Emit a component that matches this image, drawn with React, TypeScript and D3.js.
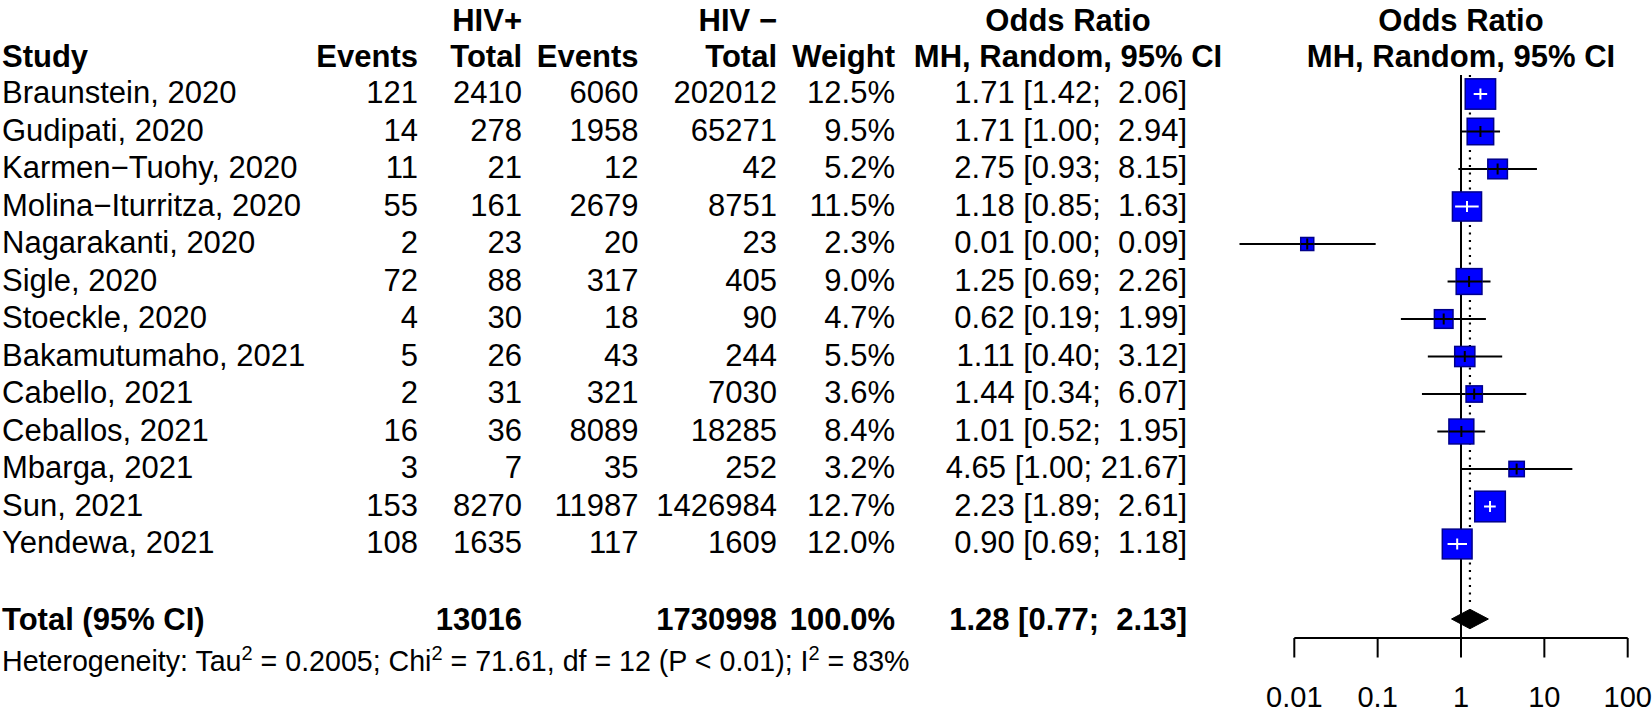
import React from "react";
import * as d3 from "d3";

const studies = [
  "Braunstein, 2020",
  "Gudipati, 2020",
  "Karmen\u2212Tuohy, 2020",
  "Molina\u2212Iturritza, 2020",
  "Nagarakanti, 2020",
  "Sigle, 2020",
  "Stoeckle, 2020",
  "Bakamutumaho, 2021",
  "Cabello, 2021",
  "Ceballos, 2021",
  "Mbarga, 2021",
  "Sun, 2021",
  "Yendewa, 2021",
];
const eventsPos = [121, 14, 11, 55, 2, 72, 4, 5, 2, 16, 3, 153, 108];
const totalPos = [2410, 278, 21, 161, 23, 88, 30, 26, 31, 36, 7, 8270, 1635];
const eventsNeg = [6060, 1958, 12, 2679, 20, 317, 18, 43, 321, 8089, 35, 11987, 117];
const totalNeg = [202012, 65271, 42, 8751, 23, 405, 90, 244, 7030, 18285, 252, 1426984, 1609];
const weights = [12.5, 9.5, 5.2, 11.5, 2.3, 9.0, 4.7, 5.5, 3.6, 8.4, 3.2, 12.7, 12.0];
const oddsRatio = [1.71, 1.71, 2.75, 1.18, 0.0143, 1.25, 0.62, 1.11, 1.44, 1.01, 4.65, 2.23, 0.9];
const ciLower = [1.42, 1.0, 0.93, 0.85, 0.0022, 0.69, 0.19, 0.4, 0.34, 0.52, 1.0, 1.89, 0.69];
const ciUpper = [2.06, 2.94, 8.15, 1.63, 0.0947, 2.26, 1.99, 3.12, 6.07, 1.95, 21.67, 2.61, 1.18];

const pooledOR = 1.28;
const pooledLower = 0.77;
const pooledUpper = 2.13;
const totalWeightLabel = "100.0%";

const xTickValues = [0.01, 0.1, 1, 10, 100];
const xTickLabels = ["0.01", "0.1", "1", "10", "100"];

const FONT = "'Liberation Sans', Arial, Helvetica, sans-serif";
const FS = 31;
const FS_HET = 28.6;
const FS_TICK = 29;

function fmtCI(or: number, lo: number, up: number) {
  const u = up.toFixed(2);
  const pad = " ".repeat(Math.max(0, 6 - u.length));
  return `${or.toFixed(2)} [${lo.toFixed(2)};${pad}${u}]`;
}

export default function App() {
  const W = 1652;
  const H = 716;

  const x = d3.scaleLog().domain([0.01, 100]).range([1294.3, 1627.7]);
  const y = d3.scaleLinear().domain([0, 14]).range([94, 619]);
  const boxSize = d3.scaleSqrt().domain([0, d3.max(weights) as number]).range([0, 30.6]);

  const baseOff = 9;
  const header1 = 31;
  const header2 = 66.5;

  const colEventsPos = 418;
  const colTotalPos = 522;
  const colEventsNeg = 638.5;
  const colTotalNeg = 777;
  const colWeight = 895;
  const colCI = 1187;
  const colCIHeader = 1068;

  const sumPos = d3.sum(totalPos);
  const sumNeg = d3.sum(totalNeg);

  const axisY = 638;
  const refTop = 75;
  const tickLen = 19.5;
  const diamondHalfH = 9.7;
  const vTickHalf = 5.5;

  const totalBase = 630;
  const hetBase = 671;
  const tickLabelBase = 707;

  const bold = { fontWeight: 700 } as const;
  const supDy = 11.5;

  return (
    <svg
      width={W}
      height={H}
      viewBox={`0 0 ${W} ${H}`}
      style={{ position: "absolute", left: 0, top: 0, background: "#fff" }}
      fontFamily={FONT}
      fontSize={FS}
    >
      <rect x={0} y={0} width={W} height={H} fill="#fff" />
      {/* Headers */}
      <g style={bold}>
        <text x={colTotalPos} y={header1} textAnchor="end">HIV+</text>
        <text x={colTotalNeg} y={header1} textAnchor="end">HIV {"\u2212"}</text>
        <text x={colCIHeader} y={header1} textAnchor="middle">Odds Ratio</text>
        <text x={x(1)} y={header1} textAnchor="middle">Odds Ratio</text>

        <text x={2} y={header2}>Study</text>
        <text x={colEventsPos} y={header2} textAnchor="end">Events</text>
        <text x={colTotalPos} y={header2} textAnchor="end">Total</text>
        <text x={colEventsNeg} y={header2} textAnchor="end">Events</text>
        <text x={colTotalNeg} y={header2} textAnchor="end">Total</text>
        <text x={colWeight} y={header2} textAnchor="end">Weight</text>
        <text x={colCIHeader} y={header2} textAnchor="middle">MH, Random, 95% CI</text>
        <text x={x(1)} y={header2} textAnchor="middle">MH, Random, 95% CI</text>
      </g>

      {/* Study rows */}
      {studies.map((s, i) => {
        const ty = y(i) + baseOff;
        return (
          <g key={s}>
            <text x={2} y={ty}>{s}</text>
            <text x={colEventsPos} y={ty} textAnchor="end">{eventsPos[i]}</text>
            <text x={colTotalPos} y={ty} textAnchor="end">{totalPos[i]}</text>
            <text x={colEventsNeg} y={ty} textAnchor="end">{eventsNeg[i]}</text>
            <text x={colTotalNeg} y={ty} textAnchor="end">{totalNeg[i]}</text>
            <text x={colWeight} y={ty} textAnchor="end">{weights[i].toFixed(1)}%</text>
            <text x={colCI} y={ty} textAnchor="end" style={{ whiteSpace: "pre" }} xmlSpace="preserve">
              {fmtCI(oddsRatio[i], ciLower[i], ciUpper[i])}
            </text>
          </g>
        );
      })}

      {/* Total row */}
      <g style={bold}>
        <text x={2} y={totalBase}>Total (95% CI)</text>
        <text x={colTotalPos} y={totalBase} textAnchor="end">{sumPos}</text>
        <text x={colTotalNeg} y={totalBase} textAnchor="end">{sumNeg}</text>
        <text x={colWeight} y={totalBase} textAnchor="end">{totalWeightLabel}</text>
        <text x={colCI} y={totalBase} textAnchor="end" style={{ whiteSpace: "pre" }} xmlSpace="preserve">
          {fmtCI(pooledOR, pooledLower, pooledUpper)}
        </text>
      </g>

      {/* Heterogeneity */}
      <text x={2} y={hetBase} fontSize={FS_HET}>
        Heterogeneity: Tau
        <tspan fontSize={FS_HET * 0.7} dy={-supDy}>2</tspan>
        <tspan dy={supDy}> = 0.2005; Chi</tspan>
        <tspan fontSize={FS_HET * 0.7} dy={-supDy}>2</tspan>
        <tspan dy={supDy}> = 71.61, df = 12 (P &lt; 0.01); I</tspan>
        <tspan fontSize={FS_HET * 0.7} dy={-supDy}>2</tspan>
        <tspan dy={supDy}> = 83%</tspan>
      </text>

      {/* Forest panel */}
      <line x1={x(1)} x2={x(1)} y1={refTop} y2={axisY} stroke="#000" strokeWidth={2} />
      <line
        x1={x(pooledOR)}
        x2={x(pooledOR)}
        y1={refTop}
        y2={y(14) - diamondHalfH - 2}
        stroke="#000"
        strokeWidth={2.2}
        strokeDasharray="2 5.5"
      />

      {studies.map((s, i) => {
        const cy = y(i);
        const cx = x(oddsRatio[i]);
        const sz = boxSize(weights[i]);
        const lo = x(ciLower[i]);
        const hi = x(ciUpper[i]);
        const bl = cx - sz / 2;
        const br = cx + sz / 2;
        const inside = lo >= bl && hi <= br;
        const inCol = inside ? "#fff" : "#000";
        const segL = Math.max(lo, bl);
        const segR = Math.min(hi, br);
        return (
          <g key={"f" + s}>
            <line x1={lo} x2={hi} y1={cy} y2={cy} stroke="#000" strokeWidth={2} />
            <rect
              x={bl}
              y={cy - sz / 2}
              width={sz}
              height={sz}
              fill="#0000FF"
              stroke="#00008B"
              strokeWidth={1.5}
            />
            <line x1={segL} x2={segR} y1={cy} y2={cy} stroke={inCol} strokeWidth={2} />
            <line x1={cx} x2={cx} y1={cy - vTickHalf} y2={cy + vTickHalf} stroke={inCol} strokeWidth={2} />
          </g>
        );
      })}

      {/* Diamond */}
      <polygon
        points={[
          [x(pooledLower), y(14)],
          [x(pooledOR), y(14) - diamondHalfH],
          [x(pooledUpper), y(14)],
          [x(pooledOR), y(14) + diamondHalfH],
        ]
          .map((p) => p.join(","))
          .join(" ")}
        fill="#000"
        stroke="#000"
        strokeWidth={1}
      />

      {/* Axis */}
      <line x1={x(0.01)} x2={x(100)} y1={axisY} y2={axisY} stroke="#000" strokeWidth={2} />
      {xTickValues.map((t, i) => (
        <g key={"t" + t}>
          <line x1={x(t)} x2={x(t)} y1={axisY} y2={axisY + tickLen} stroke="#000" strokeWidth={2} />
          <text x={x(t)} y={tickLabelBase} textAnchor="middle" fontSize={FS_TICK}>
            {xTickLabels[i]}
          </text>
        </g>
      ))}
    </svg>
  );
}
